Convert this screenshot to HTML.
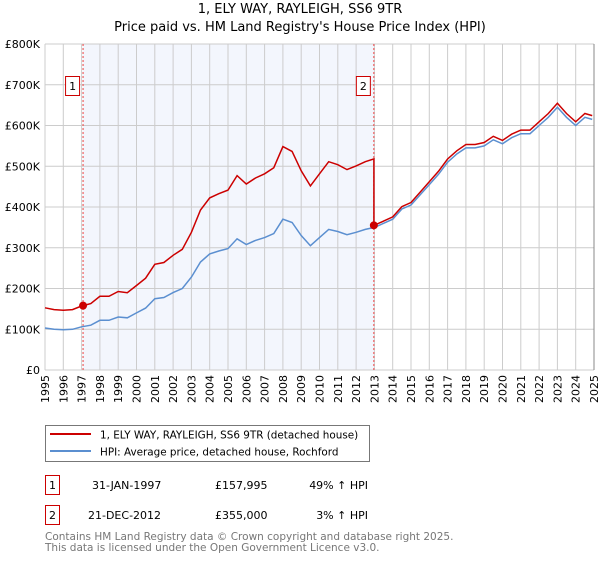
<!DOCTYPE html>
<html><head><meta charset="utf-8"><style>
body{margin:0;background:#fff;width:600px;height:560px;overflow:hidden;font-family:"DejaVu Sans","Liberation Sans",sans-serif;}
svg text{font-family:"DejaVu Sans","Liberation Sans",sans-serif;}
</style></head><body>
<svg id="c" width="600" height="560" xmlns="http://www.w3.org/2000/svg">
<text x="300" y="13" text-anchor="middle" font-size="13" fill="#000">1, ELY WAY, RAYLEIGH, SS6 9TR</text>
<text x="300" y="31" text-anchor="middle" font-size="13" fill="#000">Price paid vs. HM Land Registry's House Price Index (HPI)</text>
<g id="plot"></g>
<g>
<rect x="45.5" y="425.5" width="324" height="36" fill="#fff" stroke="#777"/>
<line x1="50" y1="434" x2="91" y2="434" stroke="#cc0000" stroke-width="2"/>
<text x="100" y="438.5" font-size="10.4">1, ELY WAY, RAYLEIGH, SS6 9TR (detached house)</text>
<line x1="50" y1="451" x2="91" y2="451" stroke="#5b8fd0" stroke-width="2"/>
<text x="100" y="455.5" font-size="10.4">HPI: Average price, detached house, Rochford</text>
</g>
<g font-size="11">
<rect x="45.5" y="475.5" width="14" height="19" fill="#fff" stroke="#cc0000"/>
<text x="52.5" y="489" text-anchor="middle">1</text>
<text x="92" y="489">31-JAN-1997</text><text x="215" y="489">£157,995</text><text x="368" y="489" text-anchor="end">49% ↑ HPI</text>
<rect x="45.5" y="505.5" width="14" height="19" fill="#fff" stroke="#cc0000"/>
<text x="52.5" y="519" text-anchor="middle">2</text>
<text x="88" y="519">21-DEC-2012</text><text x="215" y="519">£355,000</text><text x="368" y="519" text-anchor="end">3% ↑ HPI</text>
</g>
<text x="45" y="540" font-size="10.5" fill="#777">Contains HM Land Registry data © Crown copyright and database right 2025.</text>
<text x="45" y="551" font-size="10.5" fill="#777">This data is licensed under the Open Government Licence v3.0.</text>
</svg>
<script>
const hpiYears=[1995,1995.5,1996,1996.5,1997,1997.5,1998,1998.5,1999,1999.5,2000,2000.5,2001,2001.5,2002,2002.5,2003,2003.5,2004,2004.5,2005,2005.5,2006,2006.5,2007,2007.5,2008,2008.5,2009,2009.5,2010,2010.5,2011,2011.5,2012,2012.5,2013,2013.5,2014,2014.5,2015,2015.5,2016,2016.5,2017,2017.5,2018,2018.5,2019,2019.5,2020,2020.5,2021,2021.5,2022,2022.5,2023,2023.5,2024,2024.5,2024.9];
const hpiValues=[103,100,99,100,106,110,122,122,130,128,140,152,175,178,190,200,228,265,285,292,298,322,308,318,325,335,370,362,330,305,325,345,340,332,338,345,350,360,370,395,405,430,455,480,510,530,545,545,550,565,555,570,580,580,600,620,645,620,600,620,615];
const saleYears=[1997.08,2012.97];
const salePrices=[157.995,355];
const saleLabels=["1","2"];
const yTicks=[0,100,200,300,400,500,600,700,800];
const yTickLabels=["£0","£100K","£200K","£300K","£400K","£500K","£600K","£700K","£800K"];
const xTicks=[1995,1996,1997,1998,1999,2000,2001,2002,2003,2004,2005,2006,2007,2008,2009,2010,2011,2012,2013,2014,2015,2016,2017,2018,2019,2020,2021,2022,2023,2024,2025];
const NS="http://www.w3.org/2000/svg";
const X0=45,X1=594,Y0=370,Y1=44;
const xs=t=>X0+(t-1995)/30*(X1-X0);
const ys=v=>Y0-v/800*(Y0-Y1);
const g=document.getElementById('plot');
function mk(tag,at,parent){const e=document.createElementNS(NS,tag);for(const k in at)e.setAttribute(k,at[k]);(parent||g).appendChild(e);return e;}
function hpiAt(t){for(let i=0;i<hpiYears.length-1;i++){if(t<=hpiYears[i+1]){const f=(t-hpiYears[i])/(hpiYears[i+1]-hpiYears[i]);return hpiValues[i]+f*(hpiValues[i+1]-hpiValues[i]);}}return hpiValues[hpiValues.length-1];}
const shade=mk('rect',{x:xs(saleYears[0]),y:Y1,width:xs(saleYears[1])-xs(saleYears[0]),height:Y0-Y1,fill:'#f3f6fd'});


xTicks.forEach(t=>{const l=mk('line',{x1:xs(t),x2:xs(t),y1:Y1,y2:Y0,stroke:'#cccccc'});


const px=xs(t)+4,py=375;
const tx=mk('text',{x:px,y:py,'font-size':11,'text-anchor':'end',transform:'rotate(-90 '+px+' '+py+')'});tx.textContent=t;

});
yTicks.forEach((v,i)=>{const l=mk('line',{x1:X0,x2:X1,y1:ys(v),y2:ys(v),stroke:'#cccccc'});


const tx=mk('text',{x:40,y:ys(v)+4,'font-size':11,'text-anchor':'end'});tx.textContent=yTickLabels[i];

});
mk('line',{x1:X1,x2:X1,y1:Y1,y2:Y0,stroke:'#888'});
saleYears.forEach((t,i)=>{const l=mk('line',{x1:xs(t),x2:xs(t),y1:Y1,y2:Y0,stroke:'#ee4444','stroke-dasharray':'2,2'});


const r=mk('rect',{x:xs(t)-17.5,y:76.5,width:14,height:19,fill:'#fff',stroke:'#cc0000'});


const tx=mk('text',{x:xs(t)-10.5,y:90,'font-size':11,'text-anchor':'middle'});tx.textContent=saleLabels[i];

});
const hp=mk('path',{d:hpiYears.map((t,i)=>(i?'L':'M')+xs(t).toFixed(1)+','+ys(hpiValues[i]).toFixed(1)).join(''),fill:'none',stroke:'#5b8fd0','stroke-width':1.5});


let d='';const r0=salePrices[0]/hpiAt(saleYears[0]);const r1=salePrices[1]/hpiAt(saleYears[1]);
let pts=[];hpiYears.forEach((t,i)=>{if(t<saleYears[1])pts.push([t,hpiValues[i]*r0]);});
pts.push([saleYears[1],hpiAt(saleYears[1])*r0]);pts.push([saleYears[1],salePrices[1]]);
hpiYears.forEach((t,i)=>{if(t>saleYears[1])pts.push([t,hpiValues[i]*r1]);});
d=pts.map((p,i)=>(i?'L':'M')+xs(p[0]).toFixed(1)+','+ys(p[1]).toFixed(1)).join('');
const pp=mk('path',{d:d,fill:'none',stroke:'#cc0000','stroke-width':1.5});


saleYears.forEach((t,i)=>{const c=mk('circle',{cx:xs(t),cy:ys(salePrices[i]),r:4,fill:'#cc0000'});

});
</script>
</body></html>
